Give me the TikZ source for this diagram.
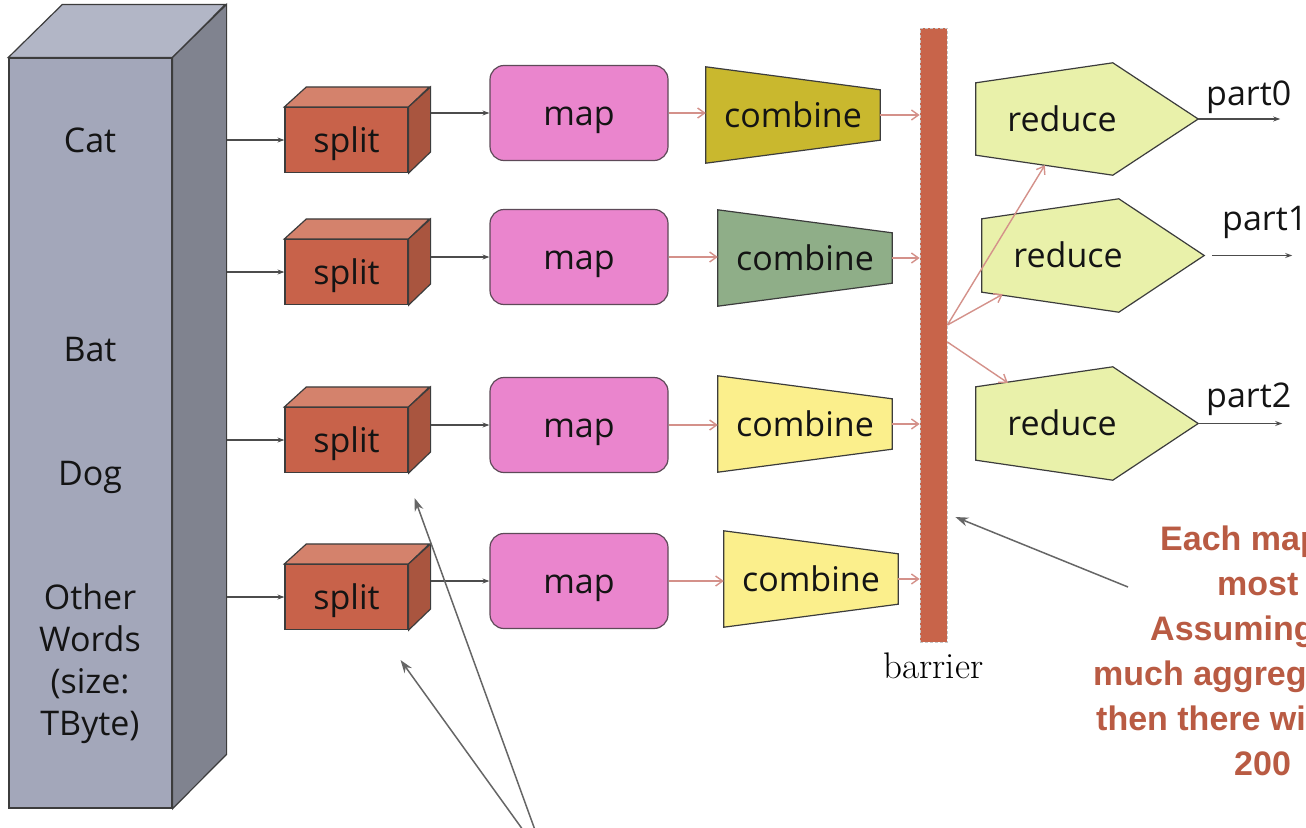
\documentclass[tikz,border=0pt]{standalone}
\usepackage{fontspec}
\setsansfont{Open Sans}
\newfontfamily\notefont{Liberation Sans}
\usetikzlibrary{positioning,calc,arrows.meta,backgrounds}

\definecolor{edge}{HTML}{3C3C3C}
\definecolor{wordsfront}{HTML}{A3A7BA}
\definecolor{wordstop}{HTML}{B2B6C6}
\definecolor{wordsside}{HTML}{80838F}
\definecolor{splitfront}{HTML}{C8624A}
\definecolor{splittop}{HTML}{D4826C}
\definecolor{splitside}{HTML}{A9553F}
\definecolor{mapfill}{HTML}{EA85CD}
\definecolor{mapedge}{HTML}{5E4A58}
\definecolor{comb1}{HTML}{C9B82E}
\definecolor{comb2}{HTML}{8FAE88}
\definecolor{comb3}{HTML}{FBEF8C}
\definecolor{redfill}{HTML}{E9F1AA}
\definecolor{barrierfill}{HTML}{C8644A}
\definecolor{pinkline}{HTML}{D4918A}
\definecolor{notered}{HTML}{B95B43}

\begin{document}
\begin{tikzpicture}[
    x=1pt, y=-1pt,
    boxfont/.style={font=\sffamily\fontsize{34}{42}\selectfont, text=black!92},
    midtext/.style={text height=24pt, text depth=0pt},
    cube/.style={draw=edge, line width=1.2pt},
    splitbox/.style={
        boxfont,
        midtext,
        cube,
        fill=splitfront,
        minimum width=123pt,
        minimum height=65pt,
        inner sep=0pt
    },
    mapbox/.style={
        boxfont,
        midtext,
        draw=mapedge,
        line width=1.2pt,
        fill=mapfill,
        rounded corners=14pt,
        minimum width=178pt,
        minimum height=95pt,
        inner sep=0pt
    },
    combbox/.style={boxfont, midtext, minimum width=174pt, minimum height=96pt, inner sep=0pt},
    redbox/.style={boxfont, midtext, minimum width=172pt, inner sep=0pt},
    darrow/.style={-{Stealth[length=7pt,width=5pt]}, draw=black!70, line width=1.1pt},
    parrow/.style={-{Straight Barb[length=7pt,width=10pt]}, draw=pinkline, line width=1.4pt},
    callarrow/.style={-{Stealth[length=13pt,width=9pt]}, draw=black!60, line width=1.5pt},
    note/.style={font=\notefont\bfseries\fontsize{34}{40}\selectfont, text=notered, anchor=base west, inner sep=0pt}
]

\useasboundingbox (0,0) rectangle (1306,827);
\begin{scope}[on background layer]
\fill[white] (0,0) rectangle (1306,827);
\end{scope}

% Input column
\node[cube, fill=wordsfront, minimum width=163pt, minimum height=750pt, inner sep=0pt] (words) at (90.5,433) {};
\draw[cube, fill=wordstop] (words.north west) -- ++(54,-53) -- ++(163,0) -- (words.north east) -- cycle;
\draw[cube, fill=wordsside] (words.north east) -- ++(54,-53) -- ++(0,750) -- (words.south east) -- cycle;
\coordinate (wordsside) at ($(words.east)+(54,0)$);

\node[boxfont] (cat) at (90,140) {Cat};
\node[boxfont] (bat) at (90,350) {Bat};
\node[boxfont] (dog) at (90,477) {Dog};
\node[boxfont, align=center] (other) at (90,664) {Other\\Words\\(size:\\TByte)};

% Barrier
\node[fill=barrierfill, draw=gray!45, densely dashed, line width=0.8pt,
      minimum width=27pt, minimum height=614pt, inner sep=0pt] (barrier) at (933.5,335) {};
\node[font=\rmfamily\fontsize{37}{40}\selectfont, inner sep=0pt, below=10pt of barrier] (barlabel) {barrier};

% Split, map, combine rows
\foreach \i/\sy/\my/\cx/\cy/\cfill in {1/140/113/793/115/comb1, 2/272/257/805/258/comb2,
                                        3/440/425/805/424/comb3, 4/597/581/811/579/comb3} {
    \node[splitbox] (sp\i) at (346.5,\sy) {split};
    \draw[cube, fill=splittop] (sp\i.north west) -- ++(22,-20) -- ++(123,0) -- (sp\i.north east) -- cycle;
    \draw[cube, fill=splitside] (sp\i.north east) -- ++(22,-20) -- ++(0,65) -- (sp\i.south east) -- cycle;
    \coordinate (spside\i) at ($(sp\i.east)+(22,0)$);
    \node[mapbox] (map\i) at (579,\my) {map};
    \node[combbox] (cmb\i) at (\cx,\cy) {combine};
    \begin{scope}[on background layer]
        \draw[cube, fill=\cfill] (cmb\i.north west) -- ($(cmb\i.north east)+(0,23)$)
            -- ($(cmb\i.south east)+(0,-23)$) -- (cmb\i.south west) -- cycle;
    \end{scope}
    \draw[darrow] (sp\i.west -| wordsside) -- (sp\i.west);
    \draw[darrow] (map\i.west -| spside\i) -- (map\i.west);
    \draw[parrow] (map\i.east) -- (map\i.east -| cmb\i.west);
    \draw[parrow] (cmb\i.east) -- (cmb\i.east -| barrier.west);
}

% Reduce
\foreach \i/\rx/\ry/\rh in {0/1062/119/112, 1/1068/255.5/113, 2/1062/423.5/113} {
    \node[redbox, minimum height=\rh pt] (red\i) at (\rx,\ry) {reduce};
    \coordinate (tip\i) at ($(red\i.east)+(50,0)$);
    \begin{scope}[on background layer]
        \draw[cube, fill=redfill] ($(red\i.north west)+(0,20)$) -- ($(red\i.north west)+(137,0)$)
            -- (tip\i) -- ($(red\i.south west)+(137,0)$) -- ($(red\i.south west)+(0,-20)$) -- cycle;
    \end{scope}
}

% Barrier to reduce
\coordinate (fanA) at ($(barrier.east)+(0,-10)$);
\coordinate (fanB) at ($(barrier.east)+(0,7)$);
\draw[parrow] (fanA) -- ($(red0.south west)+(69,-10)$);
\draw[parrow] (fanA) -- ($(red1.south west)+(21,-18)$);
\draw[parrow] (fanB) -- ($(red2.north west)+(32,16)$);

% Outputs
\coordinate (out0) at ($(tip0)+(82,0)$);
\coordinate (in1) at ($(tip1)+(8,0)$);
\coordinate (out1) at ($(tip1)+(88,0)$);
\coordinate (out2) at ($(tip2)+(84,0)$);
\draw[darrow] (tip0) -- (out0);
\draw[darrow] (in1) -- (out1);
\draw[darrow] (tip2) -- (out2);
\node[boxfont, anchor=base west, inner sep=0pt] (part0) at (1206,105) {part0};
\node[boxfont, anchor=base west, inner sep=0pt] (part1) at (1222,230) {part1};
\node[boxfont, anchor=base west, inner sep=0pt] (part2) at (1206,407) {part2};

% Note
\foreach \nx/\ny/\nt [count=\n] in {1160/550/Each map, 1217/595/most, 1150/640/Assuming,
                                   1093/685/much aggreg, 1096/730/then there wi, 1234/775/200}
    \node[note] (note\n) at (\nx,\ny) {\nt};

% Call-outs
\coordinate (callout) at (1128,587);
\coordinate (srcA) at (535,830);
\coordinate (srcB) at (523,830);
\draw[callarrow] (callout) -- ($(barrier.east)+(8,182)$);
\draw[callarrow] (srcA) -- ($(sp3.south east)+(6,25)$);
\draw[callarrow] (srcB) -- ($(sp4.south east)+(-8,30)$);

\end{tikzpicture}
\end{document}
